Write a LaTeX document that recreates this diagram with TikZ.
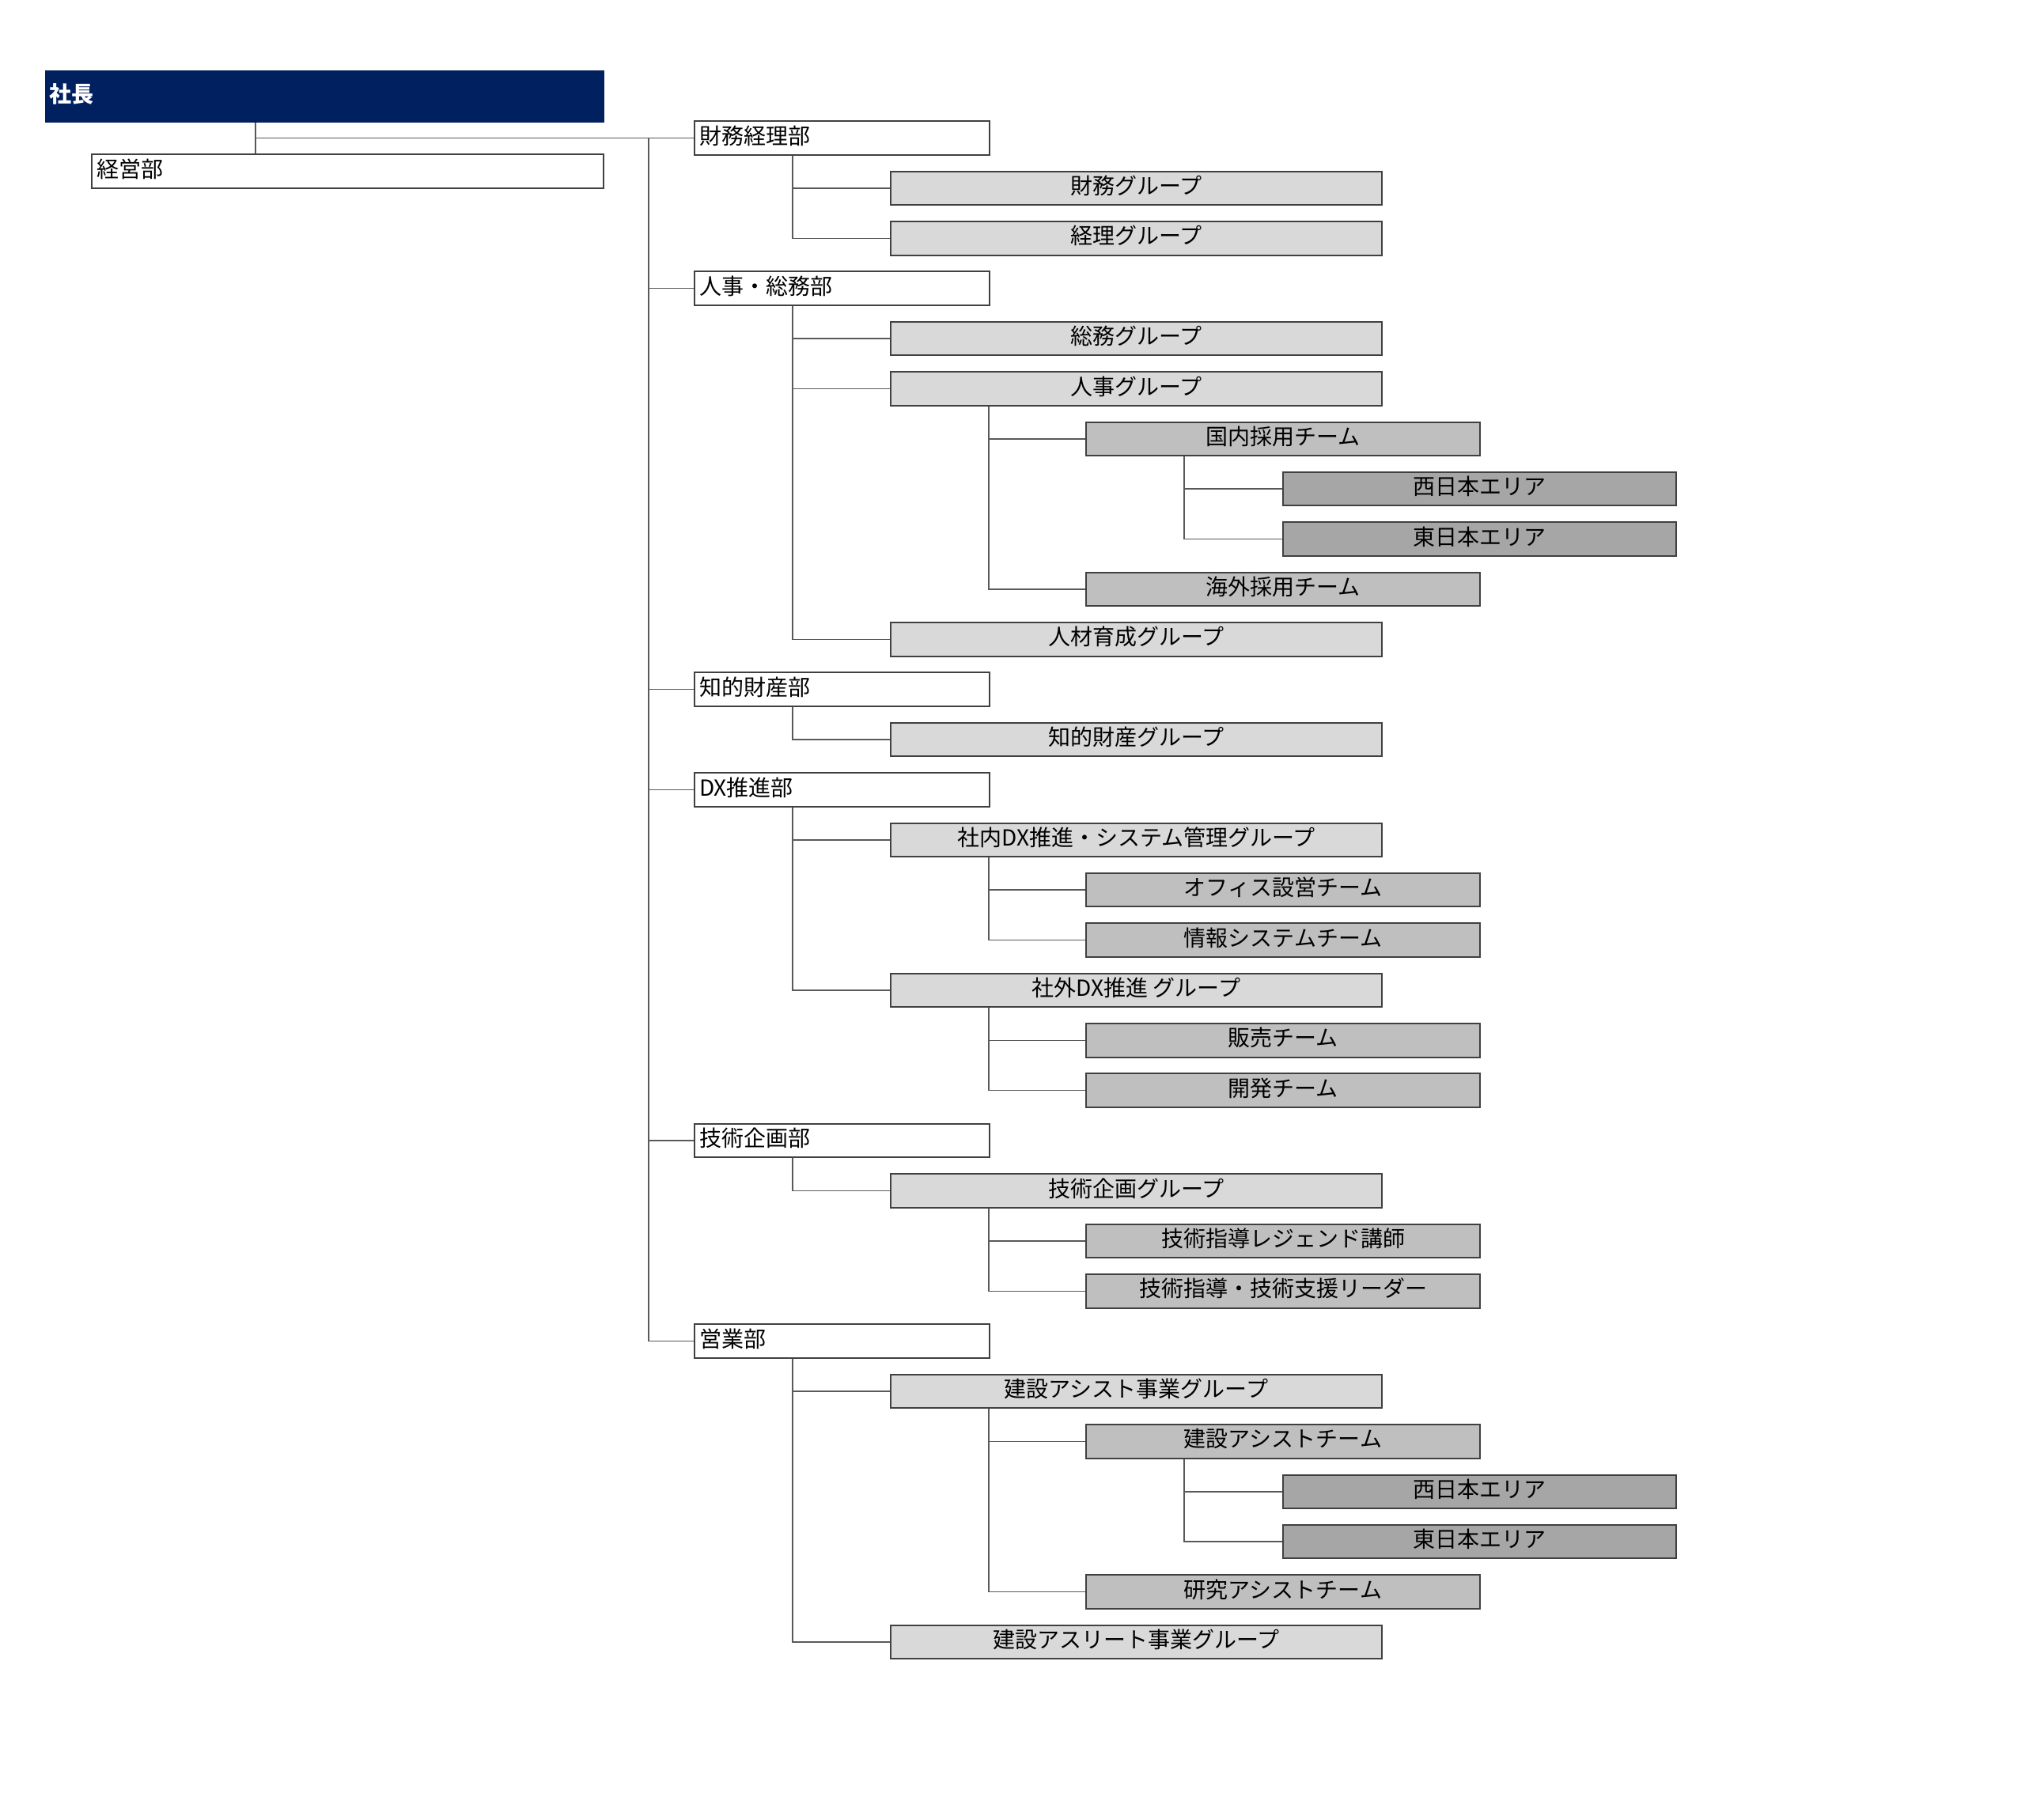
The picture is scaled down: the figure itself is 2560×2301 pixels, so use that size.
\documentclass[tikz,border=0pt]{standalone}
\usepackage{fontspec}
\setmainfont{Noto Sans CJK JP}
\definecolor{navy}{HTML}{002060}
\definecolor{lvtwo}{HTML}{D9D9D9}
\definecolor{lvthree}{HTML}{BFBFBF}
\definecolor{lvfour}{HTML}{A6A6A6}
\definecolor{bordc}{HTML}{404040}
\definecolor{linec}{HTML}{595959}
\begin{document}
\begin{tikzpicture}[x=0.5pt,y=-0.5pt,
  box/.style={draw=bordc, line width=1pt, inner sep=0pt, minimum height=21.25pt,
    text height=0.84em, text depth=0.08em, font=\fontsize{14pt}{16pt}\selectfont, anchor=west},
  dept/.style={box, fill=white, text width=180.5pt, inner xsep=3pt, align=left},
  grp/.style={box, fill=lvtwo, minimum width=310.5pt},
  team/.style={box, fill=lvthree, minimum width=249pt},
  area/.style={box, fill=lvfour, minimum width=248.5pt},
  link/.style={draw=linec, line width=0.75pt}]
\useasboundingbox[fill=white] (0,0) rectangle (2560,2301);
% top
\node[box, fill=navy, draw=navy, minimum height=32pt, text width=348.5pt, inner xsep=2pt, align=left,
  text=white, font=\fontsize{14pt}{16pt}\selectfont\bfseries] (boss) at (57,122) {社長};
\node[box, fill=white, text width=317.5pt, inner xsep=3pt, align=left] (keiei) at (115,216.5) {経営部};
% rows
\def\pitch{63.38}
\node[dept] (r0)  at (877,{174.5+\pitch*0})  {財務経理部};
\node[grp]  (r1)  at (1125,{174.5+\pitch*1}) {財務グループ};
\node[grp]  (r2)  at (1125,{174.5+\pitch*2}) {経理グループ};
\node[dept] (r3)  at (877,{174.5+\pitch*3})  {人事・総務部};
\node[grp]  (r4)  at (1125,{174.5+\pitch*4}) {総務グループ};
\node[grp]  (r5)  at (1125,{174.5+\pitch*5}) {人事グループ};
\node[team] (r6)  at (1372,{174.5+\pitch*6}) {国内採用チーム};
\node[area] (r7)  at (1621,{174.5+\pitch*7}) {西日本エリア};
\node[area] (r8)  at (1621,{174.5+\pitch*8}) {東日本エリア};
\node[team] (r9)  at (1372,{174.5+\pitch*9}) {海外採用チーム};
\node[grp]  (r10) at (1125,{174.5+\pitch*10}) {人材育成グループ};
\node[dept] (r11) at (877,{174.5+\pitch*11})  {知的財産部};
\node[grp]  (r12) at (1125,{174.5+\pitch*12}) {知的財産グループ};
\node[dept] (r13) at (877,{174.5+\pitch*13})  {DX推進部};
\node[grp]  (r14) at (1125,{174.5+\pitch*14}) {社内DX推進・システム管理グループ};
\node[team] (r15) at (1372,{174.5+\pitch*15}) {オフィス設営チーム};
\node[team] (r16) at (1372,{174.5+\pitch*16}) {情報システムチーム};
\node[grp]  (r17) at (1125,{174.5+\pitch*17}) {社外DX推進 グループ};
\node[team] (r18) at (1372,{174.5+\pitch*18}) {販売チーム};
\node[team] (r19) at (1372,{174.5+\pitch*19}) {開発チーム};
\node[dept] (r20) at (877,{174.5+\pitch*20})  {技術企画部};
\node[grp]  (r21) at (1125,{174.5+\pitch*21}) {技術企画グループ};
\node[team] (r22) at (1372,{174.5+\pitch*22}) {技術指導レジェンド講師};
\node[team] (r23) at (1372,{174.5+\pitch*23}) {技術指導・技術支援リーダー};
\node[dept] (r24) at (877,{174.5+\pitch*24})  {営業部};
\node[grp]  (r25) at (1125,{174.5+\pitch*25}) {建設アシスト事業グループ};
\node[team] (r26) at (1372,{174.5+\pitch*26}) {建設アシストチーム};
\node[area] (r27) at (1621,{174.5+\pitch*27}) {西日本エリア};
\node[area] (r28) at (1621,{174.5+\pitch*28}) {東日本エリア};
\node[team] (r29) at (1372,{174.5+\pitch*29}) {研究アシストチーム};
\node[grp]  (r30) at (1125,{174.5+\pitch*30}) {建設アスリート事業グループ};
% connectors
\coordinate (stem) at ([xshift=133pt]boss.south west);
\draw[link] (stem) -- (stem |- keiei.north);
\draw[link] (stem |- r0.west) -- (r0.west);
\coordinate (tk) at ([xshift=-28.5pt]r0.west);
\draw[link] (tk) -- (tk |- r24.west);
\foreach \d in {3,11,13,20,24}
  \draw[link] (tk |- r\d.west) -- (r\d.west);
\foreach \p/\c in {0/1,0/2,3/4,3/5,5/6,6/7,6/8,5/9,3/10,11/12,13/14,14/15,14/16,13/17,17/18,17/19,
                   20/21,21/22,21/23,24/25,25/26,26/27,26/28,25/29,24/30}
  \draw[link] ([xshift=62.5pt]r\p.south west) |- (r\c.west);
\end{tikzpicture}
\end{document}
